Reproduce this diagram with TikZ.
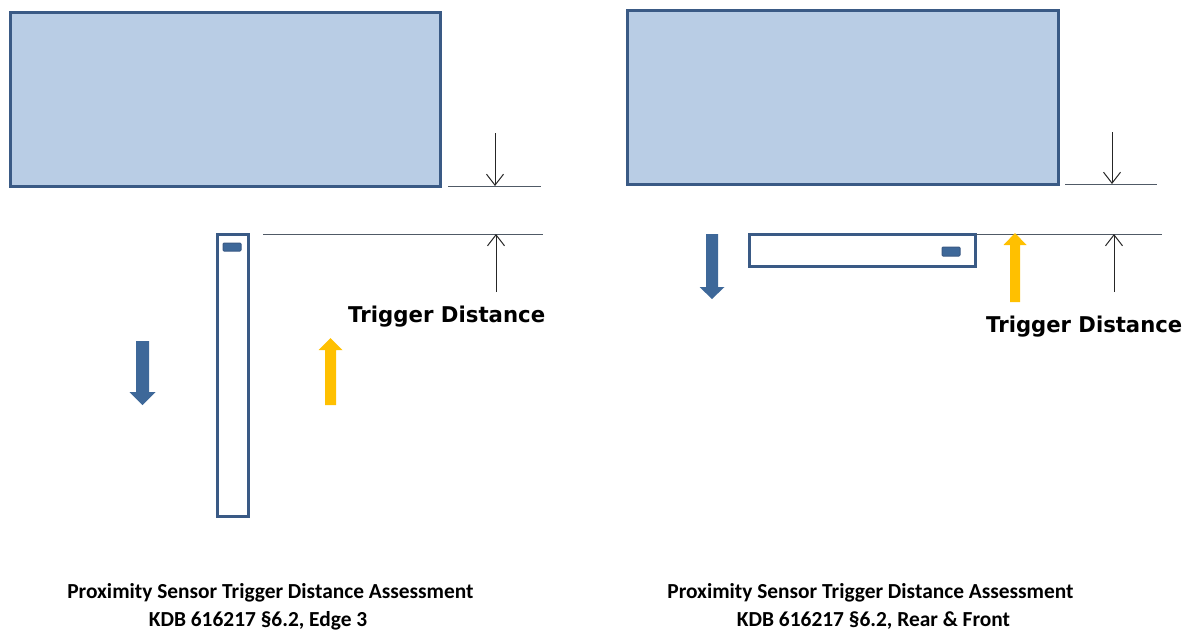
\documentclass[tikz,border=0pt]{standalone}
\usepackage{fontspec}
\setmainfont{Carlito}
\newfontfamily\tdfont{DejaVu Sans}
\usetikzlibrary{arrows.meta}
\definecolor{boxfill}{HTML}{B9CDE5}
\definecolor{boxline}{HTML}{3A5A85}
\definecolor{arrblue}{HTML}{3E6899}
\definecolor{arryel}{HTML}{FFC000}
\definecolor{dimline}{HTML}{505A66}
\tikzset{
  x=1pt, y=-1pt,
  bigbox/.style={draw=boxline, fill=boxfill, line width=3pt},
  phone/.style={draw=boxline, fill=white, line width=3pt},
  sensor/.style={draw=boxline, fill=arrblue, line width=1pt, rounded corners=1pt},
  dimrule/.style={draw=dimline, line width=1pt},
  dimarrow/.style={draw=black!85, line width=1pt, -{Straight Barb[length=11pt,width=17pt,line width=1pt]}},
  bluearrow/.style={fill=arrblue, draw=none},
  yelarrow/.style={fill=arryel, draw=none},
  tdlabel/.style={inner sep=0pt, anchor=base west},
  caption/.style={inner sep=0pt, anchor=base, font=\fontsize{21.4}{24}\selectfont\bfseries}
}
\begin{document}
\begin{tikzpicture}
\useasboundingbox (0,0) rectangle (1186,632);
% ---------- left panel ----------
\path[bigbox] (10,12) rectangle (440,186);
\coordinate (L1a) at (448,186); \coordinate (L1b) at (541,186);
\draw[dimrule] (L1a) -- (L1b);
\coordinate (LDtop) at (495,133); \coordinate (LDbot) at (495,186);
\draw[dimarrow] (LDtop) -- (LDbot);
\path[phone] (217,234) rectangle (248,516);
\path[sensor] (223,243) rectangle (241,251);
\coordinate (L2a) at (263,234); \coordinate (L2b) at (543,234);
\draw[dimrule] (L2a) -- (L2b);
\coordinate (LUbot) at (496,292); \coordinate (LUtop) at (496,234);
\draw[dimarrow] (LUbot) -- (LUtop);
\node[tdlabel] (tdl) at (348,322) {\resizebox{197pt}{16.5pt}{\tdfont\bfseries Trigger Distance}};
% blue block arrow down
\path[bluearrow] (136,341) -- (149,341) -- (149,392) -- (155.5,392) -- (142.5,405) -- (129.5,392) -- (136,392) -- cycle;
% yellow block arrow up
\path[yelarrow] (325,405) -- (336,405) -- (336,350) -- (342.5,350) -- (330.5,338) -- (318.5,350) -- (325,350) -- cycle;
\node[caption] (capl1) at (270.5,598) {Proximity Sensor Trigger Distance Assessment};
\node[caption] (capl2) at (258,626) {KDB 616217 §6.2, Edge 3};
% ---------- right panel ----------
\path[bigbox] (627,10) rectangle (1058,184);
\coordinate (R1a) at (1065,184); \coordinate (R1b) at (1157,184);
\draw[dimrule] (R1a) -- (R1b);
\coordinate (RDtop) at (1112,132); \coordinate (RDbot) at (1112,184);
\draw[dimarrow] (RDtop) -- (RDbot);
\path[phone] (749,234) rectangle (975,266);
\path[sensor] (942,247) rectangle (960,256);
\coordinate (R2a) at (976,234); \coordinate (R2b) at (1162,234);
\draw[dimrule] (R2a) -- (R2b);
\coordinate (RUbot) at (1114,292); \coordinate (RUtop) at (1114,234);
\draw[dimarrow] (RUbot) -- (RUtop);
\node[tdlabel] (tdr) at (986,332) {\resizebox{196pt}{16.5pt}{\tdfont\bfseries Trigger Distance}};
% blue block arrow down
\path[bluearrow] (706,234) -- (718,234) -- (718,287) -- (724.5,287) -- (712,299) -- (699.5,287) -- (706,287) -- cycle;
% yellow block arrow up
\path[yelarrow] (1010,302) -- (1020,302) -- (1020,245) -- (1026.5,245) -- (1015,233) -- (1003.5,245) -- (1010,245) -- cycle;
\node[caption] (capr1) at (870.5,598) {Proximity Sensor Trigger Distance Assessment};
\node[caption] (capr2) at (873.5,626) {KDB 616217 §6.2, Rear \& Front};
\end{tikzpicture}
\end{document}
